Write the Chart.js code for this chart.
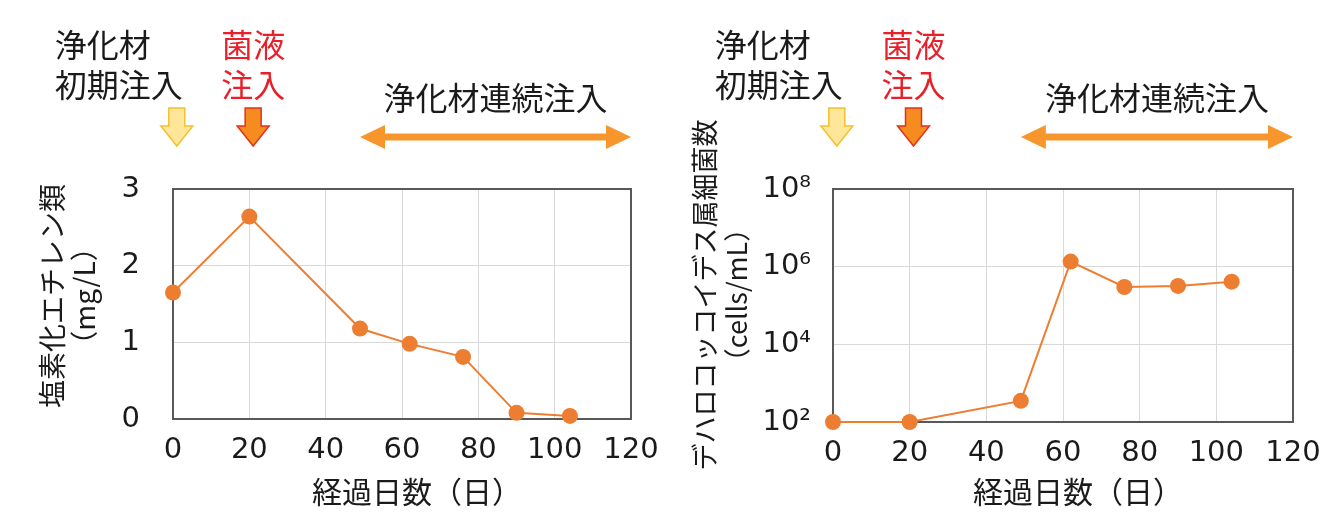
<!DOCTYPE html>
<html>
<head>
<meta charset="utf-8">
<script src="https://cdn.jsdelivr.net/npm/chart.js@4/dist/chart.umd.min.js"></script>
<style>
  body { margin: 0; background: #fff; width: 1324px; height: 527px; overflow: hidden; position: relative; }
  canvas { position: absolute; top: 0; }
  #voc-chart { left: 0; }
  #dhc-chart { left: 662px; }
</style>
</head>
<body>
<canvas id="voc-chart" width="662" height="527"></canvas>
<canvas id="dhc-chart" width="662" height="527"></canvas>
<script>
"use strict";

/* --- DATA --- */
const days = [0, 20, 49, 62, 76, 90, 104];
const chloroethenes = [1.65, 2.64, 1.18, 0.98, 0.81, 0.08, 0.04];   // mg/L
const dehalococcoides = [100, 100, 350, 1.35e6, 3.0e5, 3.2e5, 4.1e5]; // cells/mL
const xTicks = [0, 20, 40, 60, 80, 100, 120];
const leftTicks = [0, 1, 2, 3];
const rightTicks = [1e2, 1e4, 1e6, 1e8];
const rightTickLabels = ['10²', '10⁴', '10⁶', '10⁸'];
const arrowDays = [1, 21];        // 浄化材初期注入, 菌液注入
const continuousDays = [49, 120]; // 浄化材連続注入

const JP = '"Noto Sans CJK JP", sans-serif';
const NUM = '"DejaVu Sans", "Noto Sans CJK JP", sans-serif';
const ORANGE = '#ed7d31';
const TEXT = '#1a1a1a';

function downArrow(ctx, cx, top, fill, stroke) {
  ctx.beginPath();
  ctx.moveTo(cx - 8, top);
  ctx.lineTo(cx + 8, top);
  ctx.lineTo(cx + 8, top + 18);
  ctx.lineTo(cx + 16, top + 18);
  ctx.lineTo(cx, top + 38);
  ctx.lineTo(cx - 16, top + 18);
  ctx.lineTo(cx - 8, top + 18);
  ctx.closePath();
  ctx.fillStyle = fill;
  ctx.fill();
  ctx.lineWidth = 1.5;
  ctx.strokeStyle = stroke;
  ctx.stroke();
}

function doubleArrow(ctx, x1, x2, y, color) {
  ctx.beginPath();
  ctx.moveTo(x1, y);
  ctx.lineTo(x1 + 25, y - 12);
  ctx.lineTo(x1 + 25, y - 3.5);
  ctx.lineTo(x2 - 25, y - 3.5);
  ctx.lineTo(x2 - 25, y - 12);
  ctx.lineTo(x2, y);
  ctx.lineTo(x2 - 25, y + 12);
  ctx.lineTo(x2 - 25, y + 3.5);
  ctx.lineTo(x1 + 25, y + 3.5);
  ctx.lineTo(x1 + 25, y + 12);
  ctx.closePath();
  ctx.fillStyle = color;
  ctx.fill();
}

/* frame, top notes and axis titles */
const headerPlugin = {
  id: 'header',
  beforeDatasetsDraw(chart) {
    const {ctx, chartArea: a} = chart;
    ctx.save();
    ctx.strokeStyle = '#595959';
    ctx.lineWidth = 2;
    ctx.strokeRect(a.left, a.top, a.right - a.left, a.bottom - a.top);
    ctx.restore();
  },
  afterDraw(chart, args, opts) {
    const ctx = chart.ctx;
    const a = chart.chartArea;
    const x = chart.scales.x;
    const ax1 = x.getPixelForValue(arrowDays[0]);
    const ax2 = x.getPixelForValue(arrowDays[1]);
    const c1 = x.getPixelForValue(continuousDays[0]);
    const c2 = x.getPixelForValue(continuousDays[1]);

    ctx.save();
    ctx.font = '32px ' + JP;
    ctx.textBaseline = 'middle';
    ctx.fillStyle = TEXT;
    ctx.textAlign = 'left';
    ctx.fillText('浄化材', ax1 - 122, 45);
    ctx.fillText('初期注入', ax1 - 122, 85);
    ctx.fillStyle = '#e8202a';
    ctx.textAlign = 'center';
    ctx.fillText('菌液', ax2, 45);
    ctx.fillText('注入', ax2, 85);
    ctx.fillStyle = TEXT;
    ctx.fillText('浄化材連続注入', (c1 + c2) / 2, 98);

    downArrow(ctx, ax1, 108, '#ffe699', '#f2c12e');
    downArrow(ctx, ax2, 108, '#f68b1f', '#e2321c');
    doubleArrow(ctx, c1, c2, 137, '#f7962d');

    // x title
    ctx.fillStyle = TEXT;
    ctx.font = '30px ' + JP;
    ctx.textAlign = 'left';
    ctx.fillText('経過日数（日）', (a.left + a.right) / 2 - 90, 492);

    // y title
    ctx.textAlign = 'center';
    ctx.font = opts.titleSize + 'px ' + JP;
    ctx.translate(opts.titleX, opts.titleY);
    ctx.rotate(-Math.PI / 2);
    opts.yTitle.forEach((t, i) => ctx.fillText(t, 0, i * opts.lineGap));
    ctx.restore();
  }
};

function xAxis(height) {
  return {
    type: 'linear',
    min: 0,
    max: 120,
    afterBuildTicks: s => { s.ticks = xTicks.map(v => ({value: v})); },
    afterFit: s => { s.height = height; },
    grid: { color: '#d9d9d9', lineWidth: 1, drawTicks: true, tickLength: 11, tickColor: 'rgba(0,0,0,0)' },
    border: { display: false },
    ticks: { padding: 3, color: TEXT, font: { family: NUM, size: 29 } }
  };
}

const voc_chart = new Chart(document.getElementById('voc-chart'), {
  type: 'line',
  data: {
    datasets: [{
      data: days.map((d, i) => ({x: d, y: chloroethenes[i]})),
      borderColor: ORANGE,
      backgroundColor: ORANGE,
      borderWidth: 2,
      pointRadius: 8,
      pointBorderWidth: 0,
      clip: false
    }]
  },
  options: {
    responsive: false,
    animation: false,
    devicePixelRatio: 1,
    layout: { padding: { top: 189, right: 31, bottom: 0, left: 0 } },
    scales: {
      x: xAxis(108),
      y: {
        min: 0,
        max: 3,
        afterBuildTicks: s => { s.ticks = leftTicks.map(v => ({value: v})); },
        afterFit: s => { s.width = 173; },
        grid: { color: '#d9d9d9', lineWidth: 1, drawTicks: false },
        border: { display: false },
        ticks: { padding: 33, color: TEXT, font: { family: NUM, size: 29 } }
      }
    },
    plugins: {
      legend: { display: false },
      tooltip: { enabled: false },
      header: { yTitle: ['塩素化エチレン類', '（mg/L）'], titleX: 52, titleY: 296, titleSize: 28, lineGap: 32 }
    }
  },
  plugins: [headerPlugin]
});

const dhc_chart = new Chart(document.getElementById('dhc-chart'), {
  type: 'line',
  data: {
    datasets: [{
      data: days.map((d, i) => ({x: d, y: dehalococcoides[i]})),
      borderColor: ORANGE,
      backgroundColor: ORANGE,
      borderWidth: 2,
      pointRadius: 8,
      pointBorderWidth: 0,
      clip: false
    }]
  },
  options: {
    responsive: false,
    animation: false,
    devicePixelRatio: 1,
    layout: { padding: { top: 189, right: 31, bottom: 0, left: 0 } },
    scales: {
      x: xAxis(105),
      y: {
        type: 'logarithmic',
        min: 1e2,
        max: 1e8,
        afterBuildTicks: s => { s.ticks = rightTicks.map(v => ({value: v})); },
        afterFit: s => { s.width = 171; },
        grid: { color: '#d9d9d9', lineWidth: 1, drawTicks: false },
        border: { display: false },
        ticks: {
          padding: 22,
          color: TEXT,
          font: { family: NUM, size: 29 },
          callback: v => rightTickLabels[rightTicks.indexOf(v)]
        }
      }
    },
    plugins: {
      legend: { display: false },
      tooltip: { enabled: false },
      header: { yTitle: ['デハロコッコイデス属細菌数', '（cells/mL）'], titleX: 43, titleY: 295, titleSize: 27, lineGap: 32 }
    }
  },
  plugins: [headerPlugin]
});
</script>
</body>
</html>
